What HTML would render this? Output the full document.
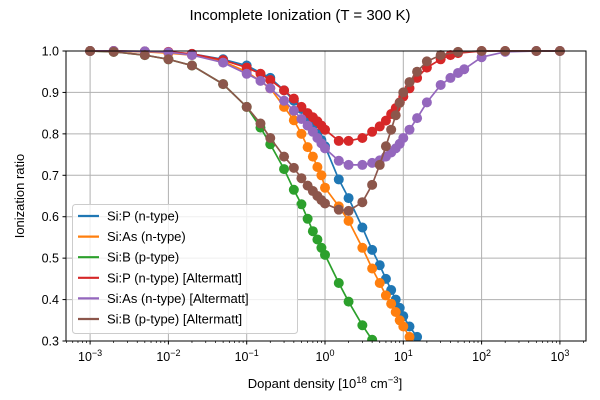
<!DOCTYPE html>
<html><head><meta charset="utf-8"><style>
body{margin:0;background:#fff}
svg{display:block;font-family:"Liberation Sans","DejaVu Sans",sans-serif}
</style></head><body>
<svg id="s" width="600" height="400" xmlns="http://www.w3.org/2000/svg">
<rect width="600" height="400" fill="#fff"/>
<text x="300" y="20" font-size="15" text-anchor="middle">Incomplete Ionization (T = 300 K)</text>
<g id="grid"></g>
<g id="data"></g>
<rect x="66" y="51" width="520" height="290" fill="none" stroke="#000" stroke-width="1"/>
<g id="ticks" font-size="12.5"></g>
<text x="325" y="388" font-size="13" text-anchor="middle">Dopant density [10<tspan dy="-5" font-size="9.5">18</tspan><tspan dy="5"> cm</tspan><tspan dy="-5" font-size="9.5">−3</tspan><tspan dy="5">]</tspan></text>
<text transform="translate(24,196) rotate(-90)" font-size="13" text-anchor="middle">Ionization ratio</text>
<g id="leg"></g>
</svg>
<script>
const NS="http://www.w3.org/2000/svg";
function el(p,t,a,txt){const e=document.createElementNS(NS,t);for(const k in a)e.setAttribute(k,a[k]);if(txt!==undefined)e.textContent=txt;p.appendChild(e);return e;}
const X=n=>325+78.3*Math.log10(n), Y=r=>51+(1-r)*414.3;
const grid=document.getElementById('grid'),ticks=document.getElementById('ticks');
for(let e=-3;e<=3;e++){const x=X(Math.pow(10,e));
 el(grid,'line',{x1:x,x2:x,y1:51,y2:341,stroke:'#b0b0b0','stroke-width':1});
 el(ticks,'line',{x1:x,x2:x,y1:341,y2:344.5,stroke:'#000'});
 const t=el(ticks,'text',{x:x,y:361,'text-anchor':'middle'});t.innerHTML='10<tspan dy="-5" font-size="9">'+(e<0?'−'+(-e):e)+'</tspan>';}
for(let e=-4;e<=3;e++)for(let m=2;m<10;m++){const x=X(m*Math.pow(10,e));if(x>66&&x<586)el(ticks,'line',{x1:x,x2:x,y1:341,y2:343,stroke:'#000','stroke-width':0.7});}
for(let k=0;k<=7;k++){const r=1-k*0.1,y=Y(r);
 el(grid,'line',{x1:66,x2:586,y1:y,y2:y,stroke:'#b0b0b0','stroke-width':1});
 el(ticks,'line',{x1:62.5,x2:66,y1:y,y2:y,stroke:'#000'});
 el(ticks,'text',{x:59,y:y+4.5,'text-anchor':'end'},r.toFixed(1));}
const S=[
['#1f77b4',[[0.001,1],[0.002,1],[0.005,0.999],[0.01,0.997],[0.02,0.993],[0.05,0.98],[0.1,0.965],[0.2,0.935],[0.3,0.905],[0.4,0.88],[0.5,0.86],[0.6,0.84],[0.7,0.82],[0.8,0.8],[0.9,0.785],[1,0.77],[1.5,0.69],[2,0.645],[3,0.574],[4,0.52],[5,0.483],[6,0.45],[7,0.423],[8,0.4],[9,0.38],[10,0.36],[12,0.335],[15,0.31],[20,0.26]]],
['#ff7f0e',[[0.001,1],[0.002,1],[0.005,0.998],[0.01,0.995],[0.02,0.99],[0.05,0.975],[0.1,0.95],[0.2,0.91],[0.3,0.865],[0.4,0.833],[0.5,0.8],[0.6,0.768],[0.7,0.745],[0.8,0.72],[0.9,0.7],[1,0.67],[1.5,0.625],[2,0.59],[3,0.525],[4,0.475],[5,0.44],[6,0.41],[7,0.39],[8,0.37],[9,0.35],[10,0.335],[12,0.31],[15,0.28]]],
['#2ca02c',[[0.001,1],[0.002,0.998],[0.005,0.99],[0.01,0.98],[0.02,0.965],[0.05,0.92],[0.1,0.865],[0.15,0.815],[0.2,0.775],[0.3,0.715],[0.4,0.665],[0.5,0.63],[0.6,0.595],[0.7,0.565],[0.8,0.545],[0.9,0.525],[1,0.508],[1.5,0.44],[2,0.395],[3,0.338],[4,0.303],[5,0.27]]],
['#d62728',[[0.001,1],[0.002,1],[0.005,0.999],[0.01,0.998],[0.02,0.993],[0.05,0.978],[0.1,0.96],[0.15,0.945],[0.2,0.93],[0.3,0.905],[0.4,0.885],[0.5,0.865],[0.6,0.85],[0.7,0.84],[0.8,0.83],[0.9,0.82],[1,0.81],[1.5,0.783],[2,0.783],[3,0.79],[4,0.805],[5,0.818],[6,0.832],[7,0.848],[8,0.862],[9,0.876],[10,0.89],[12,0.91],[15,0.935],[20,0.96],[30,0.98],[40,0.99],[50,0.995],[100,1],[200,1],[500,1],[1000,1]]],
['#9467bd',[[0.001,1],[0.002,1],[0.005,0.999],[0.01,0.997],[0.02,0.99],[0.05,0.972],[0.1,0.945],[0.15,0.928],[0.2,0.91],[0.3,0.88],[0.4,0.856],[0.5,0.836],[0.6,0.82],[0.7,0.805],[0.8,0.79],[0.9,0.777],[1,0.765],[1.5,0.735],[2,0.725],[3,0.725],[4,0.73],[5,0.736],[6,0.745],[7,0.755],[8,0.765],[9,0.776],[10,0.79],[12,0.81],[15,0.838],[20,0.876],[30,0.918],[40,0.935],[50,0.947],[60,0.956],[100,0.985],[200,0.998],[500,1],[1000,1]]],
['#8c564b',[[0.001,1],[0.002,0.998],[0.005,0.99],[0.01,0.98],[0.02,0.965],[0.05,0.92],[0.1,0.865],[0.15,0.825],[0.2,0.79],[0.3,0.745],[0.4,0.718],[0.5,0.693],[0.6,0.675],[0.7,0.662],[0.8,0.65],[0.9,0.64],[1,0.632],[1.5,0.617],[2,0.614],[3,0.635],[4,0.677],[5,0.725],[6,0.77],[7,0.81],[8,0.845],[9,0.875],[10,0.9],[12,0.925],[15,0.95],[20,0.975],[30,0.99],[50,0.998],[100,1],[200,1],[500,1],[1000,1]]]];
const data=document.getElementById('data');
const defs=el(data,'clipPath',{id:'c'});el(defs,'rect',{x:60,y:45,width:532,height:296});
const g=el(data,'g',{'clip-path':'url(#c)'});
S.forEach(([c,pts])=>{const sg=el(g,'g',{});
 el(sg,'polyline',{points:pts.map(p=>X(p[0]).toFixed(1)+','+Y(p[1]).toFixed(1)).join(' '),fill:'none',stroke:c,'stroke-width':1.7});
 pts.forEach(p=>el(sg,'circle',{cx:X(p[0]),cy:Y(p[1]),r:5,fill:c}));});
const leg=document.getElementById('leg');
el(leg,'rect',{x:72.5,y:204.5,width:225,height:129,rx:3,fill:'#fff','fill-opacity':0.8,stroke:'#ccc'});
const names=['Si:P (n-type)','Si:As (n-type)','Si:B (p-type)','Si:P (n-type) [Altermatt]','Si:As (n-type) [Altermatt]','Si:B (p-type) [Altermatt]'];
names.forEach((n,i)=>{const y=216+i*20.6;
 el(leg,'line',{x1:78,x2:99,y1:y,y2:y,stroke:S[i][0],'stroke-width':2.2});
 el(leg,'text',{x:107,y:y+4.5,'font-size':13},n);});
</script>
</body></html>
